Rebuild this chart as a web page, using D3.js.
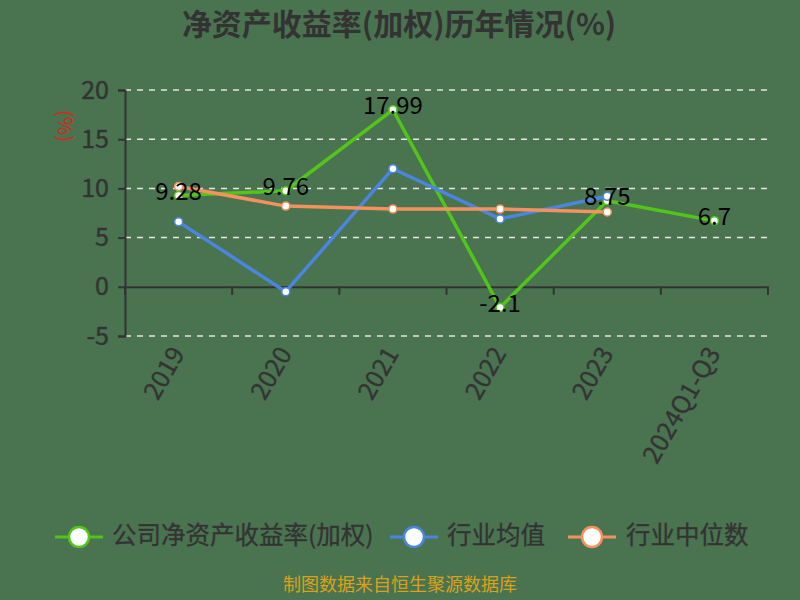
<!DOCTYPE html>
<html>
<head>
<meta charset="utf-8">
<script src="https://cdn.jsdelivr.net/npm/d3@7"></script>
<style>
  html, body { margin: 0; padding: 0; background: #4a7350; }
  svg { display: block; }
</style>
</head>
<body>
<svg id="chart" width="800" height="600"></svg>
<script>
const categories = ["2019", "2020", "2021", "2022", "2023", "2024Q1-Q3"];
const companyROE = [9.28, 9.76, 17.99, -2.1, 8.75, 6.7];
const industryAvg = [6.6, -0.5, 12.0, 6.9, 9.2, null];
const industryMedian = [10.2, 8.2, 7.9, 7.9, 7.6, null];
const yTicks = [-5, 0, 5, 10, 15, 20];
const seriesNames = ["公司净资产收益率(加权)", "行业均值", "行业中位数"];
const seriesColors = ["#52c41a", "#4a86e0", "#f4915e"];

const svg = d3.select("#chart");
const W = 800, H = 600;
const m = { left: 125, right: 32, top: 90, bottom: 264 };
const x = d3.scaleBand().domain(categories).range([m.left, W - m.right]);
const y = d3.scaleLinear().domain([-5, 20]).range([H - m.bottom, m.top]);
const font = "'Noto Sans CJK SC', 'Noto Sans', sans-serif";

svg.append("rect").attr("width", W).attr("height", H).attr("fill", "#4a7350");

// Title
svg.append("text").attr("x", 399).attr("y", 35).attr("text-anchor", "middle")
  .attr("font-family", font).attr("font-size", 30).attr("font-weight", "bold")
  .attr("fill", "#333")
  .text("净资产收益率(加权)历年情况(%)");

// Gridlines
svg.append("g").selectAll("line").data(yTicks.filter(d => d !== 0)).join("line")
  .attr("x1", m.left).attr("x2", W - m.right)
  .attr("y1", d => y(d)).attr("y2", d => y(d))
  .attr("stroke", "#e6e6e6").attr("stroke-width", 1.5).attr("stroke-dasharray", "6,6");

// Y axis
const yAxis = svg.append("g").attr("transform", `translate(${m.left},0)`)
  .call(d3.axisLeft(y).tickValues(yTicks).tickSize(7).tickPadding(9).tickFormat(d3.format("d")));
yAxis.select(".domain").attr("stroke", "#333").attr("stroke-width", 2);
yAxis.selectAll(".tick line").attr("stroke", "#333").attr("stroke-width", 2);
yAxis.selectAll("text").attr("font-family", font).attr("font-size", 25).attr("fill", "#333")
  .attr("stroke", "#333").attr("stroke-width", 0.4).text(d => d < 0 ? "-" + Math.abs(d) : d);

// Y unit label
svg.append("text").attr("transform", `translate(63,126) rotate(90)`)
  .attr("text-anchor", "middle").attr("dominant-baseline", "middle")
  .attr("font-family", font).attr("font-size", 20).attr("fill", "#d9261c").text("(%)");

// X axis at zero
const xAxis = svg.append("g").attr("transform", `translate(0,${y(0)})`)
  .call(d3.axisBottom(x).tickSize(0).tickFormat(""));
xAxis.select(".domain").attr("stroke", "#333").attr("stroke-width", 2);
const boundaries = categories.map(c => x(c)).concat([x(categories[categories.length - 1]) + x.bandwidth()]);
svg.append("g").selectAll("line").data(boundaries).join("line")
  .attr("x1", d => d).attr("x2", d => d).attr("y1", y(0)).attr("y2", y(0) + 8)
  .attr("stroke", "#333").attr("stroke-width", 2);

// X labels
svg.append("g").selectAll("text").data(categories).join("text")
  .attr("transform", d => `translate(${x(d) + x.bandwidth() / 2 + 1},${y(-5) + 14}) rotate(-60)`)
  .attr("text-anchor", "end").attr("dominant-baseline", "middle")
  .attr("font-family", font).attr("font-size", 25).attr("fill", "#333")
  .attr("stroke", "#333").attr("stroke-width", 0.3).text(d => d);

const cx = (d, i) => x(categories[i]) + x.bandwidth() / 2;
const allSeries = [companyROE, industryAvg, industryMedian];
const lineGen = d3.line().defined(d => d !== null).x((d, i) => cx(d, i)).y(d => y(d));

allSeries.forEach((s, k) => {
  svg.append("path").datum(s).attr("d", lineGen).attr("fill", "none")
    .attr("stroke", seriesColors[k]).attr("stroke-width", 3.5).attr("stroke-linejoin", "round");
});
allSeries.forEach((s, k) => {
  svg.append("g").selectAll("circle").data(s.map((v, i) => ({ v, i })).filter(d => d.v !== null)).join("circle")
    .attr("cx", d => cx(null, d.i)).attr("cy", d => y(d.v)).attr("r", 4)
    .attr("fill", "#fff").attr("stroke", seriesColors[k]).attr("stroke-width", 1.5);
});

// Data labels for company
svg.append("g").selectAll("text").data(companyROE).join("text")
  .attr("x", (d, i) => cx(d, i)).attr("y", d => y(d) - 2)
  .attr("text-anchor", "middle").attr("dominant-baseline", "middle")
  .attr("font-family", font).attr("font-size", 24).attr("fill", "#000")
  .text(d => d);

// Legend
const legendItems = [
  { sx: 55, tx: 112 },
  { sx: 390, tx: 447 },
  { sx: 568, tx: 626 }
];
const ly = 537;
legendItems.forEach((it, k) => {
  const g = svg.append("g");
  g.append("line").attr("x1", it.sx).attr("x2", it.sx + 48).attr("y1", ly).attr("y2", ly)
    .attr("stroke", seriesColors[k]).attr("stroke-width", 3);
  g.append("circle").attr("cx", it.sx + 24).attr("cy", ly).attr("r", 10)
    .attr("fill", "#fff").attr("stroke", seriesColors[k]).attr("stroke-width", 2.5);
  g.append("text").attr("x", it.tx).attr("y", ly).attr("dominant-baseline", "middle")
    .attr("font-family", font).attr("font-size", 24.5).attr("fill", "#333")
    .attr("stroke", "#333").attr("stroke-width", 0.3)
    .text(seriesNames[k]);
});

// Footer
svg.append("text").attr("x", 400).attr("y", 591).attr("text-anchor", "middle")
  .attr("font-family", font).attr("font-size", 18).attr("fill", "#d9a21b")
  .text("制图数据来自恒生聚源数据库");
</script>
</body>
</html>
